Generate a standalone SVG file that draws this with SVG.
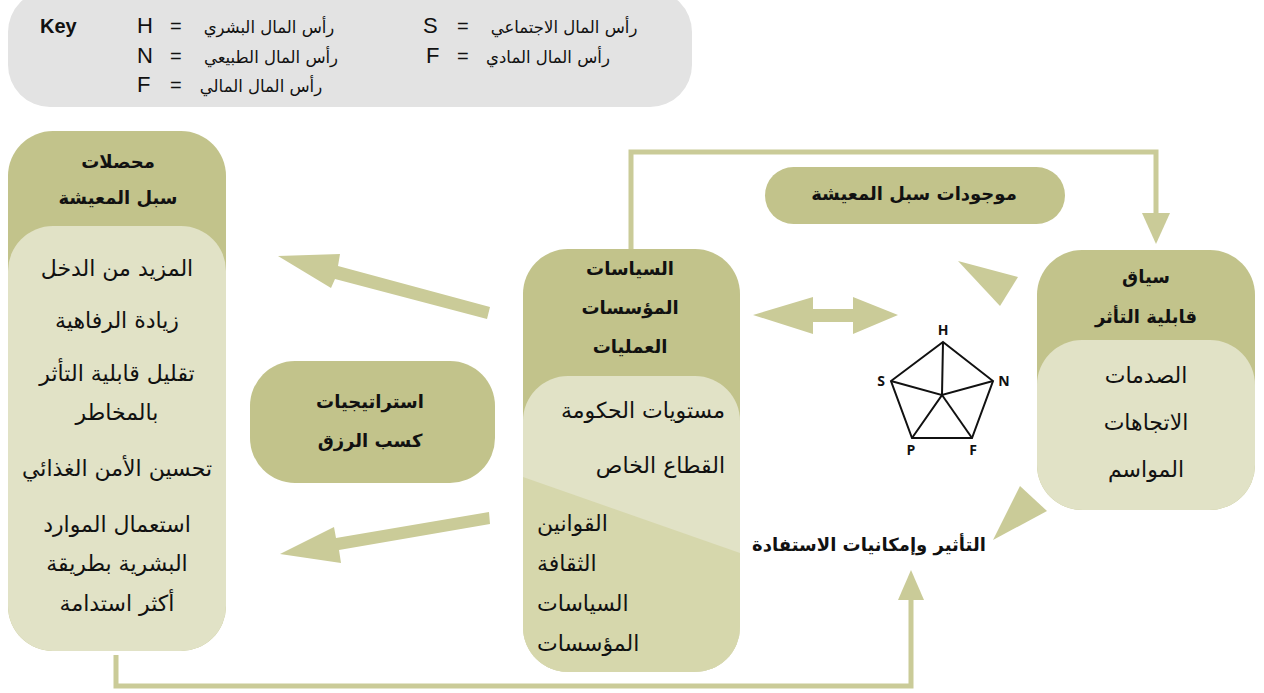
<svg xmlns="http://www.w3.org/2000/svg" width="1264" height="693" viewBox="0 0 1264 693">
<style>
.olive{fill:#c2c38b}
.light{fill:#e1e2c6}
.mid{fill:#d6d7ac}
.arr{fill:#cacb98}
.ln{fill:none;stroke:#cacb98;stroke-width:5}
.ar{font-family:"DejaVu Sans",sans-serif;fill:#111}
.t{font-size:22px;text-anchor:middle}
.b{font-family:"DejaVu Sans",sans-serif;font-weight:bold;font-size:18px;fill:#111;text-anchor:middle}
.lat{font-family:"Liberation Sans",Arial,sans-serif;fill:#111}
.k{font-size:16.5px;text-anchor:middle}
.pl{font-family:"Open Sans","DejaVu Sans",sans-serif;font-weight:bold;font-size:14px;fill:#111;text-anchor:middle}
.pen{fill:none;stroke:#111;stroke-width:2;stroke-linejoin:miter}
</style>

<g id="key">
<rect x="8" y="-10" width="684" height="117" rx="42" fill="#e3e3e3"/>
<text class="lat" x="40" y="33" font-size="20" font-weight="bold">Key</text>
<text class="lat" x="137" y="33" font-size="22">H</text>
<text class="lat" x="170" y="33" font-size="20">=</text>
<text class="ar k" x="269" y="33">رأس المال البشري</text>
<text class="lat" x="137" y="63" font-size="22">N</text>
<text class="lat" x="170" y="63" font-size="20">=</text>
<text class="ar k" x="271" y="63">رأس المال الطبيعي</text>
<text class="lat" x="137" y="92" font-size="22">F</text>
<text class="lat" x="170" y="92" font-size="20">=</text>
<text class="ar k" x="261" y="92">رأس المال المالي</text>
<text class="lat" x="423" y="33" font-size="22">S</text>
<text class="lat" x="457" y="33" font-size="20">=</text>
<text class="ar k" x="564" y="33">رأس المال الاجتماعي</text>
<text class="lat" x="426" y="63" font-size="22">F</text>
<text class="lat" x="457" y="63" font-size="20">=</text>
<text class="ar k" x="548" y="63">رأس المال المادي</text>
</g>

<g id="connectors">
<polyline class="ln" points="631,249 631,152 1156,152 1156,216"/>
<polygon class="arr" points="1142,213 1170,213 1156,244"/>
<polyline class="ln" points="116,655 116,686 911,686 911,596"/>
<polygon class="arr" points="898,600 924,600 911,570"/>
<polygon class="arr" points="490,307 487,319 335,279 331,288 278,256 340,254 338,266"/>
<polygon class="arr" points="489,512 490,524 339,550 341,563 280,554 334,527 336,538"/>
<polygon class="arr" points="753,315 813,297 813,309 853,309 853,297 898,315 853,334 853,322 813,322 813,334"/>
<polygon class="arr" points="958,261 1018,277 1000,306"/>
<polygon class="arr" points="1020,486 1047,511 993,540"/>
</g>

<g id="outcomes">
<rect class="olive" x="8" y="131" width="218" height="520" rx="45"/>
<rect class="light" x="8" y="226" width="218" height="425" rx="45"/>
<text class="b" x="118" y="168">محصلات</text>
<text class="b" x="118" y="204">سبل المعيشة</text>
<text class="ar t" x="117" y="276">المزيد من الدخل</text>
<text class="ar t" x="117" y="328">زيادة الرفاهية</text>
<text class="ar t" x="117" y="381">تقليل قابلية التأثر</text>
<text class="ar t" x="117" y="420">بالمخاطر</text>
<text class="ar t" x="117" y="476">تحسين الأمن الغذائي</text>
<text class="ar t" x="117" y="532">استعمال الموارد</text>
<text class="ar t" x="117" y="571">البشرية بطريقة</text>
<text class="ar t" x="117" y="611">أكثر استدامة</text>
</g>

<g id="strategies">
<rect class="olive" x="250" y="361" width="245" height="122" rx="45"/>
<text class="b" x="370" y="408" font-size="20">استراتيجيات</text>
<text class="b" x="370" y="447" font-size="20">كسب الرزق</text>
</g>

<g id="policies">
<defs><clipPath id="pc"><rect x="523" y="376" width="217" height="296" rx="45"/></clipPath></defs>
<rect class="olive" x="523" y="249" width="217" height="423" rx="45"/>
<rect class="light" x="523" y="376" width="217" height="296" rx="45"/>
<polygon class="mid" clip-path="url(#pc)" points="523,477 740,553 740,672 523,672"/>
<text class="b" x="630" y="275" font-size="20">السياسات</text>
<text class="b" x="630" y="314" font-size="20">المؤسسات</text>
<text class="b" x="630" y="353" font-size="20">العمليات</text>
<text class="ar" x="725" y="418" font-size="22" text-anchor="end">مستويات الحكومة</text>
<text class="ar" x="725" y="473" font-size="22" text-anchor="end">القطاع الخاص</text>
<text class="ar" x="537" y="531" font-size="22" text-anchor="start">القوانين</text>
<text class="ar" x="537" y="571" font-size="22" text-anchor="start">الثقافة</text>
<text class="ar" x="537" y="611" font-size="22" text-anchor="start">السياسات</text>
<text class="ar" x="537" y="651" font-size="22" text-anchor="start">المؤسسات</text>
</g>

<g id="assets">
<rect class="olive" x="765" y="167" width="300" height="57" rx="28.5"/>
<text class="b" x="914" y="200">موجودات سبل المعيشة</text>
</g>

<g id="pentagon">
<polygon class="pen" points="943,342 993,381 972,438 912,438 891,381"/>
<polyline class="pen" points="943,342 942,395 993,381"/>
<polyline class="pen" points="891,381 942,395 912,438"/>
<line class="pen" x1="942" y1="395" x2="972" y2="438"/>
<text class="pl" x="943" y="335">H</text>
<text class="pl" x="1004" y="386">N</text>
<text class="pl" x="973" y="455">F</text>
<text class="pl" x="911" y="455">P</text>
<text class="pl" x="881" y="386">S</text>
</g>

<g id="vulnerability">
<rect class="olive" x="1037" y="250" width="218" height="260" rx="45"/>
<rect class="light" x="1037" y="340" width="218" height="170" rx="45"/>
<text class="b" x="1146" y="283" font-size="20">سياق</text>
<text class="b" x="1146" y="323" font-size="20">قابلية التأثر</text>
<text class="ar t" x="1146" y="383">الصدمات</text>
<text class="ar t" x="1146" y="430">الاتجاهات</text>
<text class="ar t" x="1146" y="477">المواسم</text>
</g>

<g id="influence">
<text class="b" x="869" y="551" font-size="20">التأثير وإمكانيات الاستفادة</text>
</g>
</svg>
